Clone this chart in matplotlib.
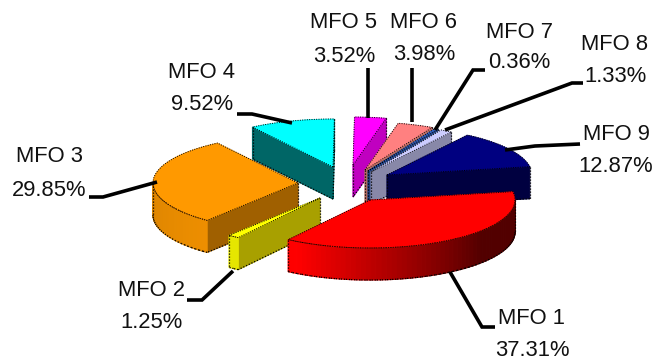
import numpy as np
import matplotlib
matplotlib.use("Agg")
import matplotlib.pyplot as plt
from matplotlib.patches import Polygon
from matplotlib.colors import to_rgb

plt.rcParams['font.family'] = ['Liberation Sans', 'DejaVu Sans']
LABEL_SIZE = 15.8

# Shares of the pie, in percent
names = ["MFO 1", "MFO 2", "MFO 3", "MFO 4", "MFO 5", "MFO 6", "MFO 7", "MFO 8", "MFO 9"]
shares = [37.31, 1.25, 29.85, 9.52, 3.52, 3.98, 0.36, 1.33, 12.87]

# Colours of the top surface and of the flat cut faces
top_colors = ["#FF0000", "#FFFF00", "#FF9900", "#00FFFF", "#FF00FF",
              "#FF8080", "#3366CC", "#CCCCFF", "#000080"]
cut_colors = ["#B00000", "#A8A000", "#A06000", "#006666", "#C000C0",
              "#B86C60", "#204080", "#8888A8", "#000040"]
rim_colors = ["#FF0000", "#E8E800", "#F09000", "#008080", "#C000C0",
              "#B86C60", "#204080", "#8888A8", "#000040"]

# Projection of the exploded pie: ellipse radii, depth, rotation of the first slice
RX, RY, DEPTH = 145.0, 48.0, 32.0
START_DEG = -10.0
# Pixel position of the tip of every exploded slice
tips = [(370, 200), (320, 198), (298, 183), (333, 167), (353, 165),
        (365, 170), (368, 171), (371, 172), (387, 175)]
draw_order = [3, 4, 5, 6, 7, 8, 2, 1, 0]

# Label block centres (name line, value line) and leader polylines
label_xy = [(532, 318, 350), (152, 291, 322), (49, 157, 190), (202, 73, 105),
            (344, 23, 56), (424, 23, 54), (519, 32, 62), (615, 44, 76), (616, 135, 167)]
leaders = [
    [(495, 327), (482, 327), (450, 272)],
    [(187, 300), (202, 300), (233, 271)],
    [(89, 197), (103, 197), (157, 182)],
    [(237, 114), (252, 114), (292, 123)],
    [(368, 68), (368, 118)],
    [(412, 68), (412, 122)],
    [(485, 70), (473, 70), (435, 130)],
    [(583, 83), (572, 83), (445, 130)],
    [(505, 150), (535, 146), (580, 144)],
]

fig = plt.figure(figsize=(6.54, 3.62), dpi=100)
ax = fig.add_axes([0, 0, 1, 1])
ax.set_xlim(0, 654)
ax.set_ylim(362, 0)
ax.axis("off")


def shade(color, f):
    return tuple(c * f for c in to_rgb(color))


def outline(xs, ys, z, color="black", lw=0.9):
    ax.plot(xs, ys, color=color, lw=lw, ls=(0, (1, 1.4)), zorder=z, solid_capstyle="butt")


def rim_shade(color, angle):
    # Rim darkens toward the right-hand side of the pie
    angle %= 360
    if angle > 200:
        angle = 0
    return shade(color, float(np.interp(angle, [40, 120, 180], [0.32, 1.0, 0.92])))


edges = np.cumsum([0.0] + shares) / sum(shares) * 360.0 + START_DEG

for z, i in enumerate(draw_order):
    base = z * 10 + 2
    a0, a1 = edges[i], edges[i + 1]
    cx, cy = tips[i]
    n = max(3, int((a1 - a0) / 2))
    th = np.radians(np.linspace(a0, a1, n))
    px = cx + RX * np.cos(th)
    py = cy + RY * np.sin(th)
    poly_x = np.r_[cx, px]
    poly_y = np.r_[cy, py]
    count = len(poly_x)

    # Side walls: an edge of the clockwise outline faces the viewer when it runs leftward
    visible = []
    for k in range(count):
        m = (k + 1) % count
        x0, y0, x1, y1 = poly_x[k], poly_y[k], poly_x[m], poly_y[m]
        visible.append(x1 < x0)
        if x1 >= x0:
            continue
        is_cut = k == 0 or m == 0
        if is_cut:
            col = cut_colors[i]
        else:
            col = rim_shade(rim_colors[i], np.degrees((th[k - 1] + th[m - 1]) / 2))
        ax.add_patch(Polygon([(x0, y0), (x1, y1), (x1, y1 + DEPTH), (x0, y0 + DEPTH)],
                             closed=True, fc=col, ec=col, lw=0.9, zorder=base))
        outline([x0, x1], [y0 + DEPTH, y1 + DEPTH], base + 3)
        if not is_cut:
            outline([x0, x1], [y0, y1], base + 3, color="#301000", lw=0.6)

    # Vertical outline where a visible wall run starts or stops
    for k in range(count):
        if visible[k] != visible[k - 1]:
            outline([poly_x[k], poly_x[k]], [poly_y[k], poly_y[k] + DEPTH], base + 3)

    # Top surface
    ax.add_patch(Polygon(np.c_[poly_x, poly_y], closed=True, fc=top_colors[i],
                         ec=top_colors[i], lw=0.4, zorder=base + 1))
    outline(np.r_[poly_x, poly_x[0]], np.r_[poly_y, poly_y[0]], base + 2, lw=0.7)

for i, name in enumerate(names):
    xs, ys = zip(*leaders[i])
    ax.plot(xs, ys, color="black", lw=2.6, solid_capstyle="butt",
            solid_joinstyle="miter", zorder=200)
    tx, y_name, y_val = label_xy[i]
    ax.text(tx, y_name, name, ha="center", va="center", fontsize=LABEL_SIZE, color="#111111", zorder=210)
    ax.text(tx, y_val, f"{shares[i]:.2f}%", ha="center", va="center", fontsize=LABEL_SIZE,
            color="#111111", zorder=210)

fig.savefig("out.png", dpi=100)
